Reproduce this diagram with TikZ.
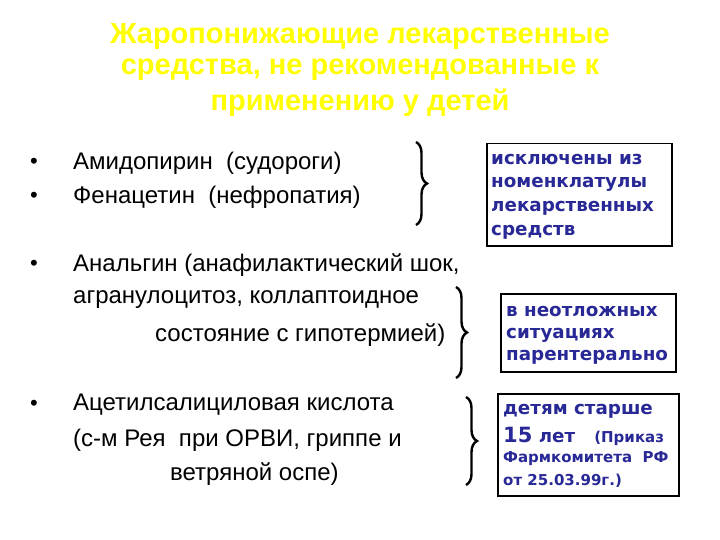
\documentclass[tikz,border=0pt]{standalone}
\usepackage{fontspec}
\setmainfont{Liberation Sans}
\newfontfamily\boxfont{DejaVu Sans}
\usetikzlibrary{decorations.pathreplacing}
\definecolor{ttl}{RGB}{255,255,0}
\definecolor{bx}{RGB}{40,40,150}
\tikzset{
 body/.style={anchor=west,font=\fontsize{24}{28}\selectfont,inner sep=0},
 bul/.style={anchor=west,font=\fontsize{22}{26}\selectfont,inner sep=0},
 ttlnode/.style={font=\bfseries\fontsize{29}{33}\selectfont,text=ttl,inner sep=0},
 brc/.style={decorate,decoration={brace,amplitude=11pt},line width=2.4pt},
 infobox/.style={draw,line width=1.5pt,anchor=north west,inner sep=0},
 btxt/.style={anchor=west,font=\boxfont\bfseries\fontsize{18.3}{21}\selectfont,text=bx,inner sep=0},
 smalltxt/.style={btxt,font=\boxfont\bfseries\fontsize{15}{18}\selectfont}
}
\begin{document}
\begin{tikzpicture}[x=1pt,y=-1pt]
\useasboundingbox[fill=white] (0,0) rectangle (720,540);
% title
\node[ttlnode] (ta) at (360,37) {Жаропонижающие лекарственные};
\node[ttlnode] (tb) at (360,70) {средства, не рекомендованные к};
\node[ttlnode] (tc) at (360,103) {применению у детей};
% left text
\node[bul] (b1) at (30,163) {•}; \node[body] (l1) at (73,163) {Амидопирин \ (судороги)};
\node[bul] (b2) at (30,197) {•}; \node[body] (l2) at (73,197) {Фенацетин \ (нефропатия)};
\node[bul] (b3) at (30,265) {•}; \node[body] (l3) at (73,265) {Анальгин (анафилактический шок,};
\node[body] (l4) at (73,300) {агранулоцитоз, коллаптоидное};
\node[body] (l5) at (155,335) {состояние с гипотермией)};
\node[bul] (b4) at (30,405) {•}; \node[body] (l6) at (73,405) {Ацетилсалициловая кислота};
\node[body] (l7) at (73,440) {(с-м Рея \ при ОРВИ, гриппе и};
\node[body] (l8) at (170,474) {ветряной оспе)};
% braces
\coordinate (p1) at (416,142); \coordinate (q1) at (416,225);
\coordinate (p2) at (456,287); \coordinate (q2) at (456,378);
\coordinate (p3) at (466,397); \coordinate (q3) at (466,485);
\draw[brc] (p1) -- (q1);
\draw[brc] (p2) -- (q2);
\draw[brc] (p3) -- (q3);
% boxes
\node[infobox,minimum width=185,minimum height=102] (k1) at (486,143) {};
\node[btxt] (k1a) at (491,160) {исключены из};
\node[btxt] (k1b) at (491,184) {номенклатулы};
\node[btxt] (k1c) at (491,208) {лекарственных};
\node[btxt] (k1d) at (491,232) {средств};
\node[infobox,minimum width=175,minimum height=78] (k2) at (500,293) {};
\node[btxt] (k2a) at (506,312) {в неотложных};
\node[btxt] (k2b) at (506,335) {ситуациях};
\node[btxt] (k2c) at (506,357) {парентерально};
\node[infobox,minimum width=181,minimum height=102] (k3) at (497,393) {};
\node[btxt] (k3a) at (503,411) {детям старше};
\node[btxt] (k3b) at (503,436) {\fontsize{21}{24}\selectfont 15\fontsize{18.3}{21}\selectfont{} лет \ \ \fontsize{15}{18}\selectfont(Приказ};
\node[smalltxt] (k3c) at (503,459) {Фармкомитета \ РФ};
\node[smalltxt] (k3d) at (503,481) {от 25.03.99г.)};
\end{tikzpicture}
\end{document}
